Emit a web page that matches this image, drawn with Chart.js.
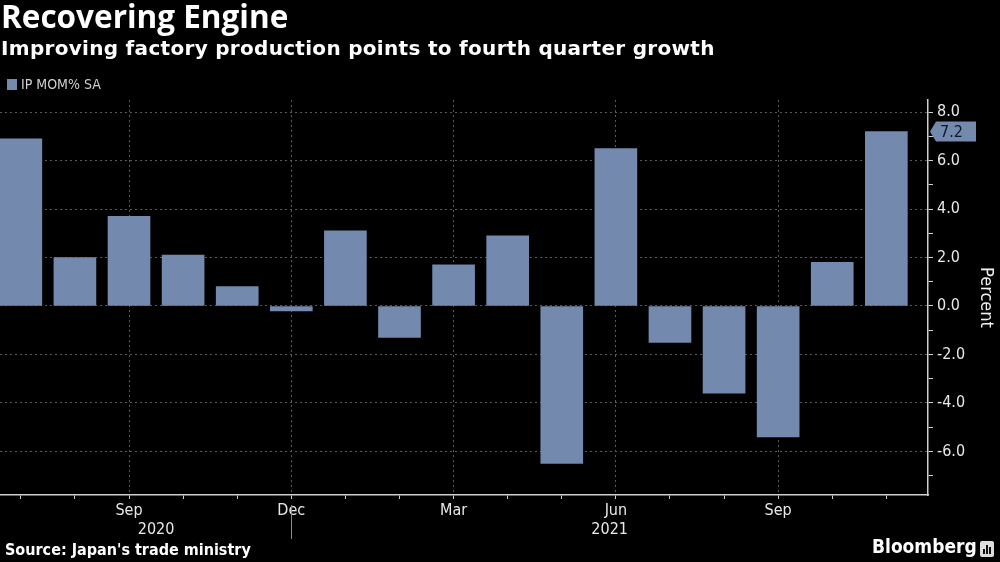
<!DOCTYPE html>
<html>
<head>
<meta charset="utf-8">
<script src="https://cdn.jsdelivr.net/npm/chart.js"></script>
<style>
  html, body { margin: 0; padding: 0; background: #000; width: 1000px; height: 562px; overflow: hidden; }
  #wrap { position: relative; width: 1000px; height: 562px; }
  #box { position: absolute; left: 0; top: 0; width: 1000px; height: 562px; }
  .txt { position: absolute; color: #fff; white-space: nowrap; }
  #title { left: 1px; top: -6px; font: bold 31.5px "Open Sans", sans-serif; }
  #subtitle { left: 1px; top: 36px; font: bold 20px "DejaVu Sans", sans-serif; letter-spacing: 0.3px; }
  #legend { left: 7px; top: 76px; font: 14px "DejaVu Sans Condensed", "Liberation Sans Narrow", "Roboto Condensed", "Noto Sans", sans-serif; color: #d0d0d0; }
  #legend i { display: inline-block; width: 10px; height: 11px; background: #7389ad; margin-right: 4px; vertical-align: -1px; }
  #source { left: 5px; top: 540px; font: bold 16px "DejaVu Sans Condensed", "Liberation Sans Narrow", "Roboto Condensed", "Noto Sans", sans-serif; }
  #brand { left: 872px; top: 535px; font: bold 19px "DejaVu Sans Condensed", "Liberation Sans Narrow", "Roboto Condensed", "Noto Sans", sans-serif; }
  #logo { position: absolute; left: 980px; top: 541px; width: 14px; height: 16px; background: #ddd; border-radius: 2px; }
  #logo b { position: absolute; bottom: 3px; width: 2px; background: #111; }
</style>
</head>
<body>
<div id="wrap">
  <div id="box"><canvas id="chart"></canvas></div>
  <div class="txt" id="title">Recovering Engine</div>
  <div class="txt" id="subtitle">Improving factory production points to fourth quarter growth</div>
  <div class="txt" id="legend"><i></i>IP MOM% SA</div>
  <div class="txt" id="source">Source: Japan's trade ministry</div>
  <div class="txt" id="brand">Bloomberg</div>
  <div id="logo"><b style="left:3px;height:5px"></b><b style="left:6px;height:9px"></b><b style="left:9px;height:7px"></b></div>
</div>
<script>
const months = ['Jul', 'Aug', 'Sep', 'Oct', 'Nov', 'Dec', 'Jan', 'Feb', 'Mar', 'Apr', 'May', 'Jun', 'Jul', 'Aug', 'Sep', 'Oct', 'Nov'];
const ipMom = [6.9, 2.0, 3.7, 2.1, 0.8, -0.2, 3.1, -1.3, 1.7, 2.9, -6.5, 6.5, -1.5, -3.6, -5.4, 1.8, 7.2];
const quarterMonths = ['Mar', 'Jun', 'Sep', 'Dec'];
const yearLabels = ['2020', '2021'];
const yearFirstIdx = [0, 6];
const yTickValues = [-7, -6, -5, -4, -3, -2, -1, 0, 1, 2, 3, 4, 5, 6, 7, 8];

const narrow = '"DejaVu Sans Condensed", "Liberation Sans Narrow", "Roboto Condensed", "Noto Sans", sans-serif';
const barColor = '#7389ad';
const gridColor = '#5a5a5a';
const axisColor = '#cfcfcf';

const extras = {
  id: 'extras',
  afterDraw(chart) {
    const { ctx, chartArea, scales: { x, y } } = chart;
    ctx.save();

    // year separators
    ctx.strokeStyle = '#8a8a8a';
    ctx.lineWidth = 1;
    yearFirstIdx.slice(1).forEach((i) => {
      const px = Math.round(x.getPixelForValue(i - 1)) + 0.5;
      ctx.beginPath();
      ctx.moveTo(px, chartArea.bottom + 10);
      ctx.lineTo(px, chartArea.bottom + 44);
      ctx.stroke();
    });

    // year labels
    ctx.fillStyle = '#e8e8e8';
    ctx.font = '16px ' + narrow;
    ctx.textAlign = 'center';
    ctx.textBaseline = 'middle';
    yearLabels.forEach((lab, k) => {
      const left = k === 0 ? x.getPixelForValue(yearFirstIdx[k]) : x.getPixelForValue(yearFirstIdx[k] - 1);
      const right = k === yearLabels.length - 1 ? chartArea.right : x.getPixelForValue(yearFirstIdx[k + 1] - 1);
      ctx.fillText(lab, (left + right) / 2, chartArea.bottom + 35);
    });

    // last value tag
    const last = ipMom[ipMom.length - 1];
    const py = y.getPixelForValue(last);
    const x0 = chartArea.right + 2;
    ctx.fillStyle = barColor;
    ctx.beginPath();
    ctx.moveTo(x0, py);
    ctx.lineTo(x0 + 6, py - 10);
    ctx.lineTo(x0 + 46, py - 10);
    ctx.lineTo(x0 + 46, py + 10);
    ctx.lineTo(x0 + 6, py + 10);
    ctx.closePath();
    ctx.fill();
    ctx.fillStyle = '#0e1828';
    ctx.textAlign = 'left';
    ctx.fillText(last.toFixed(1), x0 + 10, py + 1);

    ctx.restore();
  }
};

const ctx = document.getElementById('chart').getContext('2d');
new Chart(ctx, {
  type: 'bar',
  data: {
    datasets: [
      {
        label: 'IP MOM% SA',
        data: ipMom.map((v, i) => ({ x: i, y: v })),
        backgroundColor: barColor,
        barThickness: 42,
      },
    ],
  },
  options: {
    responsive: true,
    maintainAspectRatio: false,
    animation: false,
    layout: { padding: { top: 100, left: 0, right: 0, bottom: 0 } },
    plugins: {
      legend: { display: false },
      tooltip: { enabled: false },
    },
    scales: {
      x: {
        type: 'linear',
        offset: false,
        min: -0.385,
        max: 16.77,
        afterBuildTicks: (scale) => {
          scale.ticks = months.map((m, i) => ({ value: i }));
        },
        afterFit: (scale) => {
          scale.height = 67;
          scale.paddingLeft = 0;
          scale.paddingRight = 0;
        },
        ticks: {
          autoSkip: false,
          maxRotation: 0,
          padding: 2,
          color: '#e8e8e8',
          font: { family: narrow, size: 16 },
          callback: (value) => (quarterMonths.includes(months[value]) ? months[value] : ''),
        },
        grid: {
          offset: false,
          color: (c) => (c.tick && quarterMonths.includes(months[c.tick.value]) ? gridColor : 'rgba(0,0,0,0)'),
          lineWidth: 1,
          tickColor: axisColor,
          tickLength: 4,
        },
        border: { display: true, color: axisColor, width: 1.5, dash: [2, 3] },
      },
      y: {
        position: 'right',
        min: -7.8,
        max: 8.5,
        afterBuildTicks: (scale) => {
          scale.ticks = yTickValues.map((v) => ({ value: v }));
        },
        afterFit: (scale) => { scale.width = 72; },
        ticks: {
          padding: 4,
          color: '#e8e8e8',
          font: { family: narrow, size: 16 },
          callback: (value) => (value % 2 === 0 ? value.toFixed(1) : ''),
        },
        grid: {
          color: (c) => (c.tick && c.tick.value % 2 === 0 ? gridColor : 'rgba(0,0,0,0)'),
          lineWidth: 1,
          tickColor: axisColor,
          tickLength: 5,
        },
        border: { display: true, color: axisColor, width: 1.5, dash: [2, 3] },
        title: {
          display: true,
          text: 'Percent',
          color: '#f0f0f0',
          font: { family: narrow, size: 18 },
          padding: { top: 4, bottom: 0 },
        },
      },
    },
  },
  plugins: [extras],
});
</script>
</body>
</html>
